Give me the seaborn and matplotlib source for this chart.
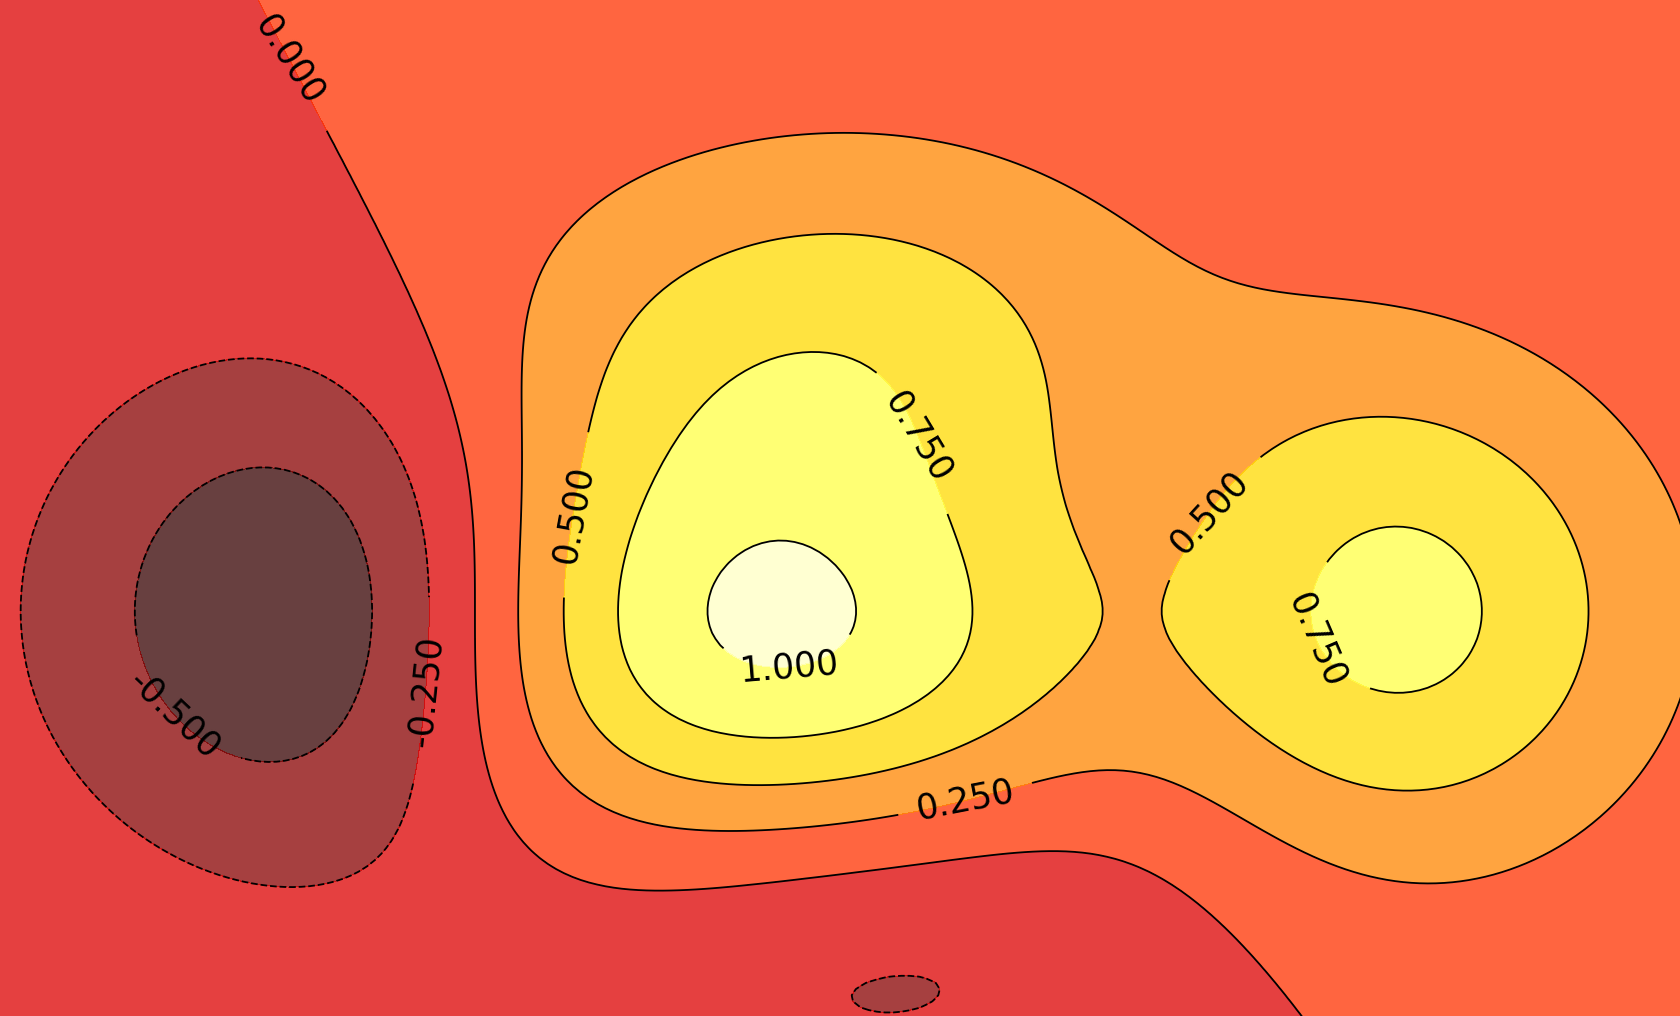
import numpy as np
import matplotlib
matplotlib.use("Agg")
import matplotlib.pyplot as plt
import seaborn as sns

# ---- data -------------------------------------------------------------
# Surface f(x, y) = (1 - x/2 + x^5 + y^3) * exp(-x^2 - y^2), sampled on a grid
grid_extent = [-3.0, 3.0]          # sampled domain on both axes
grid_points = 256
poly_coef = [1.0, -0.5, 1.0, 1.0]  # constant, x, x^5, y^3 terms
fill_levels = [-0.75, -0.5, -0.25, 0.0, 0.25, 0.5, 0.75, 1.0, 1.25]
line_levels = [-0.5, -0.25, 0.0, 0.25, 0.5, 0.75, 1.0]
label_fmt = "%1.3f"

# ---- layout (view window and label anchor points) ---------------------
view_x = [-2.45, 2.36]
view_y = [-1.55, 2.34]
label_anchor_x = [-1.616, -1.248, -1.944, 0.311, -0.840, 0.986, 0.173, 1.308, -0.195]
label_anchor_y = [2.115, -0.303, -0.385, -0.713, 0.381, 0.414, 0.660, -0.119, -0.180]

x = np.linspace(grid_extent[0], grid_extent[1], grid_points)
y = np.linspace(grid_extent[0], grid_extent[1], grid_points)
X, Y = np.meshgrid(x, y)
Z = (poly_coef[0] + poly_coef[1] * X + poly_coef[2] * X**5 + poly_coef[3] * Y**3) * np.exp(-X**2 - Y**2)

# ---- plot -------------------------------------------------------------
sns.set_style("white")
plt.rcParams['font.family'] = ['DejaVu Sans']

fig = plt.figure(figsize=(16.81, 10.16), dpi=100)
ax = fig.add_axes([0, 0, 1, 1])

ax.contourf(X, Y, Z, levels=fill_levels, alpha=0.75, cmap="hot",
            vmin=fill_levels[0], vmax=fill_levels[-1])
C = ax.contour(X, Y, Z, levels=line_levels, colors="black", linewidths=1.3)
ax.clabel(C, inline=True, fontsize=25, fmt=label_fmt,
          manual=list(zip(label_anchor_x, label_anchor_y)))

ax.set_xlim(view_x)
ax.set_ylim(view_y)
ax.set_axis_off()

fig.savefig("out.png", dpi=100)
